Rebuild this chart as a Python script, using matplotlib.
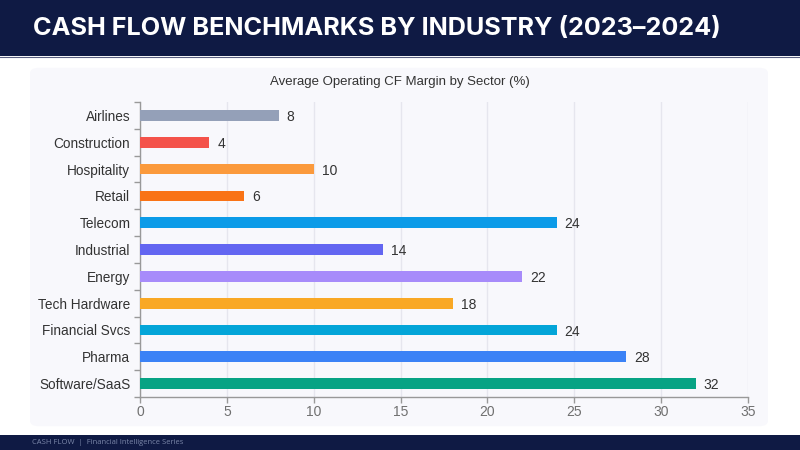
import matplotlib
matplotlib.use("Agg")
import matplotlib.pyplot as plt
from matplotlib.patches import FancyBboxPatch, Rectangle
import numpy as np

sectors = ["Airlines", "Construction", "Hospitality", "Retail", "Telecom", "Industrial",
           "Energy", "Tech Hardware", "Financial Svcs", "Pharma", "Software/SaaS"]
margins = [8, 4, 10, 6, 24, 14, 22, 18, 24, 28, 32]
colors = ["#94a0b8", "#f4524a", "#fb9a3c", "#f97316", "#0b9be8", "#6366f1",
          "#a78bfa", "#f9a825", "#04a5d8", "#3b82f6", "#07a384"]
x_ticks = [0, 5, 10, 15, 20, 25, 30, 35]

title = "CASH FLOW BENCHMARKS BY INDUSTRY (2023\u20132024)"
subtitle = "Average Operating CF Margin by Sector (%)"
footer = "CASH FLOW  |  Financial Intelligence Series"

W, H = 800, 450
fig = plt.figure(figsize=(8, 4.5), dpi=100)
fig.patch.set_facecolor("white")

def fx(px): return px / W
def fy(py): return 1 - py / H

LS = ["Liberation Sans", "DejaVu Sans"]

# header
fig.patches.append(Rectangle((0, fy(56)), 1, 56 / H, transform=fig.transFigure,
                             facecolor="#0f1a44", edgecolor="none", zorder=-2))
fig.lines.append(plt.Line2D([0, 1], [fy(56.5), fy(56.5)], transform=fig.transFigure,
                            color="#5a6080", lw=0.8, zorder=-1))
fig.text(fx(33), fy(28), title, color="white", fontsize=18.2, fontweight="bold",
         family=["Inter", "DejaVu Sans"], va="center", ha="left")

# footer
fig.patches.append(Rectangle((0, 0), 1, 15 / H, transform=fig.transFigure,
                             facecolor="#0f1a44", edgecolor="none", zorder=-2))
fig.text(fx(32), fy(442), footer, color="#7a86a8", fontsize=5.5,
         family=["Open Sans", "DejaVu Sans"], va="center", ha="left")

# card
fig.patches.append(FancyBboxPatch((fx(34), fy(424)), fx(730), (424 - 70) / H,
                                  boxstyle="round,pad=0.005,rounding_size=0.012",
                                  transform=fig.transFigure, facecolor="#f8f8fc",
                                  edgecolor="none", zorder=-2))
fig.text(0.5, fy(82.5), subtitle, color="#333333", fontsize=9.5,
         family=LS, va="center", ha="center")

ax = fig.add_axes([fx(140), fy(397), fx(608), (397 - 102) / H])
ax.set_zorder(5)
ax.set_facecolor("none")
y = np.arange(len(sectors))
ax.barh(y, margins, height=0.4, color=colors, zorder=3)
for yi, v in zip(y, margins):
    ax.text(v + 0.45, yi + 0.06, str(v), va="center", ha="left", fontsize=10, color="#333333",
            family=LS)

ax.set_xlim(0, 35)
ax.set_ylim(len(sectors) - 0.5, -0.5)
ax.set_xticks(x_ticks)
ax.set_xticklabels([str(t) for t in x_ticks], fontsize=10, color="#707070", family=LS)
ax.set_yticks(y)
ax.set_yticklabels(sectors, fontsize=9.8, color="#333333", family=LS)
ax.set_yticks(np.arange(-0.5, len(sectors), 1), minor=True)
ax.tick_params(axis="y", which="major", length=0, pad=7)
ax.tick_params(axis="y", which="minor", length=4, color="#999999", width=1)
ax.tick_params(axis="x", which="major", length=4, color="#999999", width=1, pad=2)
ax.grid(axis="x", color="#e6e6ee", lw=1, zorder=0)
ax.set_axisbelow(True)
for s in ["top", "right"]:
    ax.spines[s].set_visible(False)
for s in ["left", "bottom"]:
    ax.spines[s].set_color("#999999")
    ax.spines[s].set_linewidth(1)

fig.savefig("out.png", dpi=100)
